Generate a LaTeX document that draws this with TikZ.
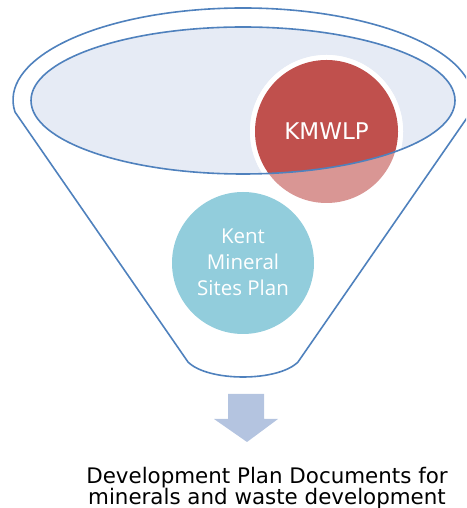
\documentclass[tikz,border=0pt]{standalone}
\usepackage{fontspec}
\newfontfamily\verdanafont{DejaVu Sans}
\newfontfamily\segoefont{Open Sans}
\definecolor{funnelblue}{HTML}{4F81BD}
\definecolor{rimfill}{HTML}{E6EBF5}
\definecolor{kmred}{HTML}{C0504D}
\definecolor{kmlight}{HTML}{D99694}
\definecolor{kentblue}{HTML}{92CDDC}
\definecolor{arrowblue}{HTML}{B4C4E0}
\tikzset{
  funnelline/.style={draw=funnelblue, line width=1.6pt, line join=round},
  circletext/.style={text=white, inner sep=0pt, align=center},
}
\begin{document}
\begin{tikzpicture}[x=1pt,y=1pt]
\useasboundingbox (0,0) rectangle (466,508);
\begin{scope}
\clip (0,0) rectangle (466,508);
% funnel outline
\draw[funnelline] (15,396) arc[start angle=187.5, end angle=-7.5, x radius=230, y radius=92]
  -- (298,146) .. controls (278,126) and (208,126) .. (188,146) -- cycle;
% inner rim fill
\fill[rimfill] (243,407.5) ellipse[x radius=212, y radius=73.5];
% KMWLP circle
\fill[white] (326.5,376.5) circle[radius=76.5];
\fill[kmlight] (326.5,376.5) circle[radius=71.5];
\begin{scope}
\clip (243,407.5) ellipse[x radius=212, y radius=73.5];
\fill[white] (326.5,376.5) circle[radius=76.5];
\fill[kmred] (326.5,376.5) circle[radius=71.5];
\end{scope}
\draw[funnelline] (243,407.5) ellipse[x radius=212, y radius=73.5];
\node[circletext, font=\verdanafont\fontsize{23}{23}\selectfont] (kmwlp) at (326.5,377.2) {KMWLP};
% Kent circle
\fill[kentblue] (243,245) circle[radius=71];
\node[circletext, font=\segoefont\fontsize{20.5}{26}\selectfont] (kent) at (243,245.5) {Kent\\Mineral\\Sites Plan};
% arrow
\fill[arrowblue] (228,114) -- (264,114) -- (264,89) -- (278,89) -- (247,66) -- (214,89) -- (228,89) -- cycle;
\node[inner sep=0pt, align=center, font=\verdanafont\fontsize{21.4}{21}\selectfont] (dpd) at (267,20.4) {Development Plan Documents for\\minerals and waste development};
\end{scope}
\end{tikzpicture}
\end{document}
